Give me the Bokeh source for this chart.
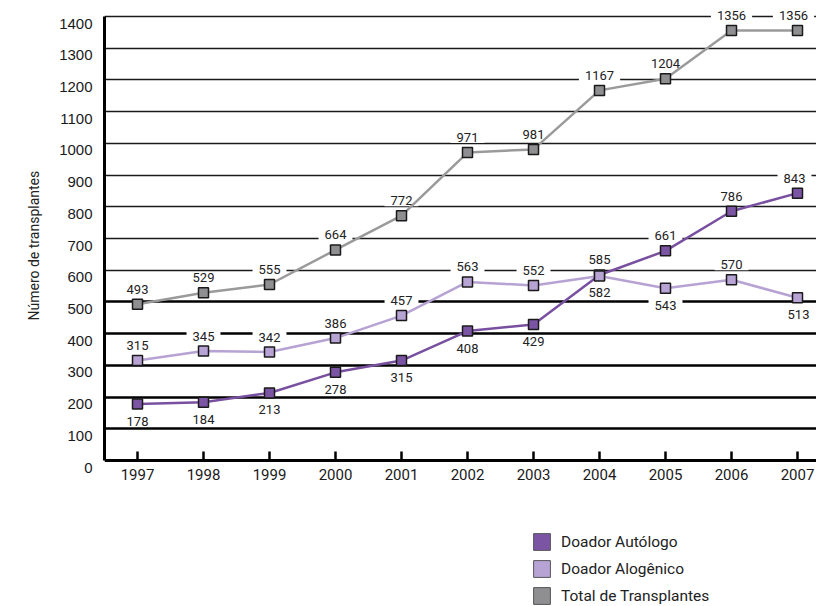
from bokeh.plotting import figure
from bokeh.models import (Range1d, FixedTicker, Grid, ColumnDataSource, Legend, LegendItem,
                          LinearAxis, BasicTickFormatter, Title)
from bokeh.core.properties import value
from bokeh.embed import file_html
from bokeh.resources import INLINE

# ---- data ----
years = [1997, 1998, 1999, 2000, 2001, 2002, 2003, 2004, 2005, 2006, 2007]
autologo = [178, 184, 213, 278, 315, 408, 429, 585, 661, 786, 843]
alogenico = [315, 345, 342, 386, 457, 563, 552, 582, 543, 570, 513]
total = [493, 529, 555, 664, 772, 971, 981, 1167, 1204, 1356, 1356]
y_ticks = [0, 100, 200, 300, 400, 500, 600, 700, 800, 900, 1000, 1100, 1200, 1300, 1400]
series_names = ["Doador Autólogo", "Doador Alogênico", "Total de Transplantes"]
y_title = "Número de transplantes"

# label placement (above / below the point) and small horizontal nudges (px)
pos_auto = ["below", "below", "below", "below", "below", "below", "below", "above", "above", "above", "above"]
pos_alo = ["above", "above", "above", "above", "above", "above", "above", "below", "below", "above", "below"]
pos_total = ["above"] * len(years)
nudge_auto = [0, 0, 0, 0, 0, 0, 0, 0, 0, 0, -3]
nudge_alo = [0, 0, 0, 0, 0, 0, 0, 0, 0, 0, 1]
nudge_total = [0, 0, 0, 0, 0, 0, 0, 0, 0, 0, -4]

FONT = "Roboto"
fill_cols = ["#7c54a4", "#b8a3d5", "#8f8f91"]
line_cols = ["#7950a0", "#b6a2d3", "#9a9a9a"]

W, H = 816, 606
LEFT = 104
PPU = 444.0 / 1400.0            # pixels per unit
Y_END = 1400 + 16 / PPU
Y_START = -(H - 460) / PPU
X_START = 1996.5
X_END = X_START + (W - LEFT) / 66.0
SHIFT = 7.0 / PPU               # y tick labels sit a little below their lines

p = figure(width=W, height=H, output_backend="svg", toolbar_location=None,
           x_range=Range1d(X_START, X_END), y_range=Range1d(Y_START, Y_END),
           min_border_left=LEFT, min_border_right=0, min_border_top=0, min_border_bottom=0,
           x_axis_location=None, y_axis_location=None)
p.extra_y_ranges = {"lab": Range1d(Y_START + SHIFT, Y_END + SHIFT)}
p.outline_line_color = None
p.background_fill_color = "white"
p.border_fill_color = "white"
for g in list(p.center):
    if isinstance(g, Grid):
        g.visible = False

# grids
thick = [t for t in y_ticks if 0 < t <= 500]
thin = [t for t in y_ticks if t > 500]
p.add_layout(Grid(dimension=1, ticker=FixedTicker(ticks=thick), grid_line_color="#000000", grid_line_width=2.4))
p.add_layout(Grid(dimension=1, ticker=FixedTicker(ticks=thin), grid_line_color="#1a1a1a", grid_line_width=1.4))

# x axis sits on y = 0
xa = LinearAxis(ticker=FixedTicker(ticks=years), formatter=BasicTickFormatter(use_scientific=False),
                fixed_location=0)
xa.axis_line_width = 3
xa.axis_line_color = "black"
xa.major_tick_in = 9
xa.major_tick_out = 0
xa.major_tick_line_width = 2.5
xa.major_tick_line_color = "black"
xa.minor_tick_line_color = None
xa.major_label_text_font = FONT
xa.major_label_text_font_size = "15px"
xa.major_label_text_color = "#1a1a1a"
xa.major_label_standoff = 8
p.add_layout(xa, "below")

ya = LinearAxis(y_range_name="lab", ticker=FixedTicker(ticks=y_ticks), bounds=(SHIFT, 1400 + SHIFT))
ya.axis_line_width = 3
ya.axis_line_color = "black"
ya.major_tick_in = 0
ya.major_tick_out = 0
ya.minor_tick_line_color = None
ya.major_label_text_font = "Liberation Sans"
ya.major_label_text_font_size = "15px"
ya.major_label_text_color = "#1a1a1a"
ya.major_label_standoff = 12
p.add_layout(ya, "left")

yt = Title(text=y_title, align="left", offset=286, standoff=30,
           text_font=FONT, text_font_size="14px", text_font_style="normal", text_color="#222222")
p.add_layout(yt, "left")

series = [autologo, alogenico, total]
positions = [pos_auto, pos_alo, pos_total]
nudges = [nudge_auto, nudge_alo, nudge_total]

# labels first (white boxes break the grid), then lines and markers
for vals, poss, ndg in zip(series, positions, nudges):
    offs = [-15 if s == "above" else 17 for s in poss]
    src = ColumnDataSource(dict(x=years, y=vals, t=[str(v) for v in vals], off=offs, xo=ndg))
    p.text(x="x", y="y", text="t", source=src, y_offset="off", x_offset="xo",
           text_font=value(FONT), text_font_size="13px", text_color="#222222",
           text_align="center", text_baseline="middle",
           background_fill_color="white", padding=dict(left=6, right=6, top=1, bottom=1))

legend_rends = []
for vals, fc, lc in zip(series, fill_cols, line_cols):
    p.line(years, vals, line_color=lc, line_width=2.5)
    # zero-size boxes at the points: they only carry the legend swatch style
    r = p.quad(left=years, right=years, top=vals, bottom=vals, fill_color=fc, line_color="#555555", line_width=1)
    p.scatter(years, vals, marker="square", size=10, fill_color=fc, line_color="#1a1a1a", line_width=1.5)
    legend_rends.append(r)

legend = Legend(items=[LegendItem(label=n, renderers=[r]) for n, r in zip(series_names, legend_rends)],
                location=(427, 0), orientation="vertical",
                glyph_width=21, glyph_height=21, label_height=21, spacing=6, padding=0, margin=0,
                label_standoff=9, border_line_color=None, background_fill_alpha=0,
                label_text_font=FONT, label_text_font_size="15.5px", label_text_color="#222222")
p.add_layout(legend, "center")

open("out.html", "w").write(file_html(p, INLINE))
